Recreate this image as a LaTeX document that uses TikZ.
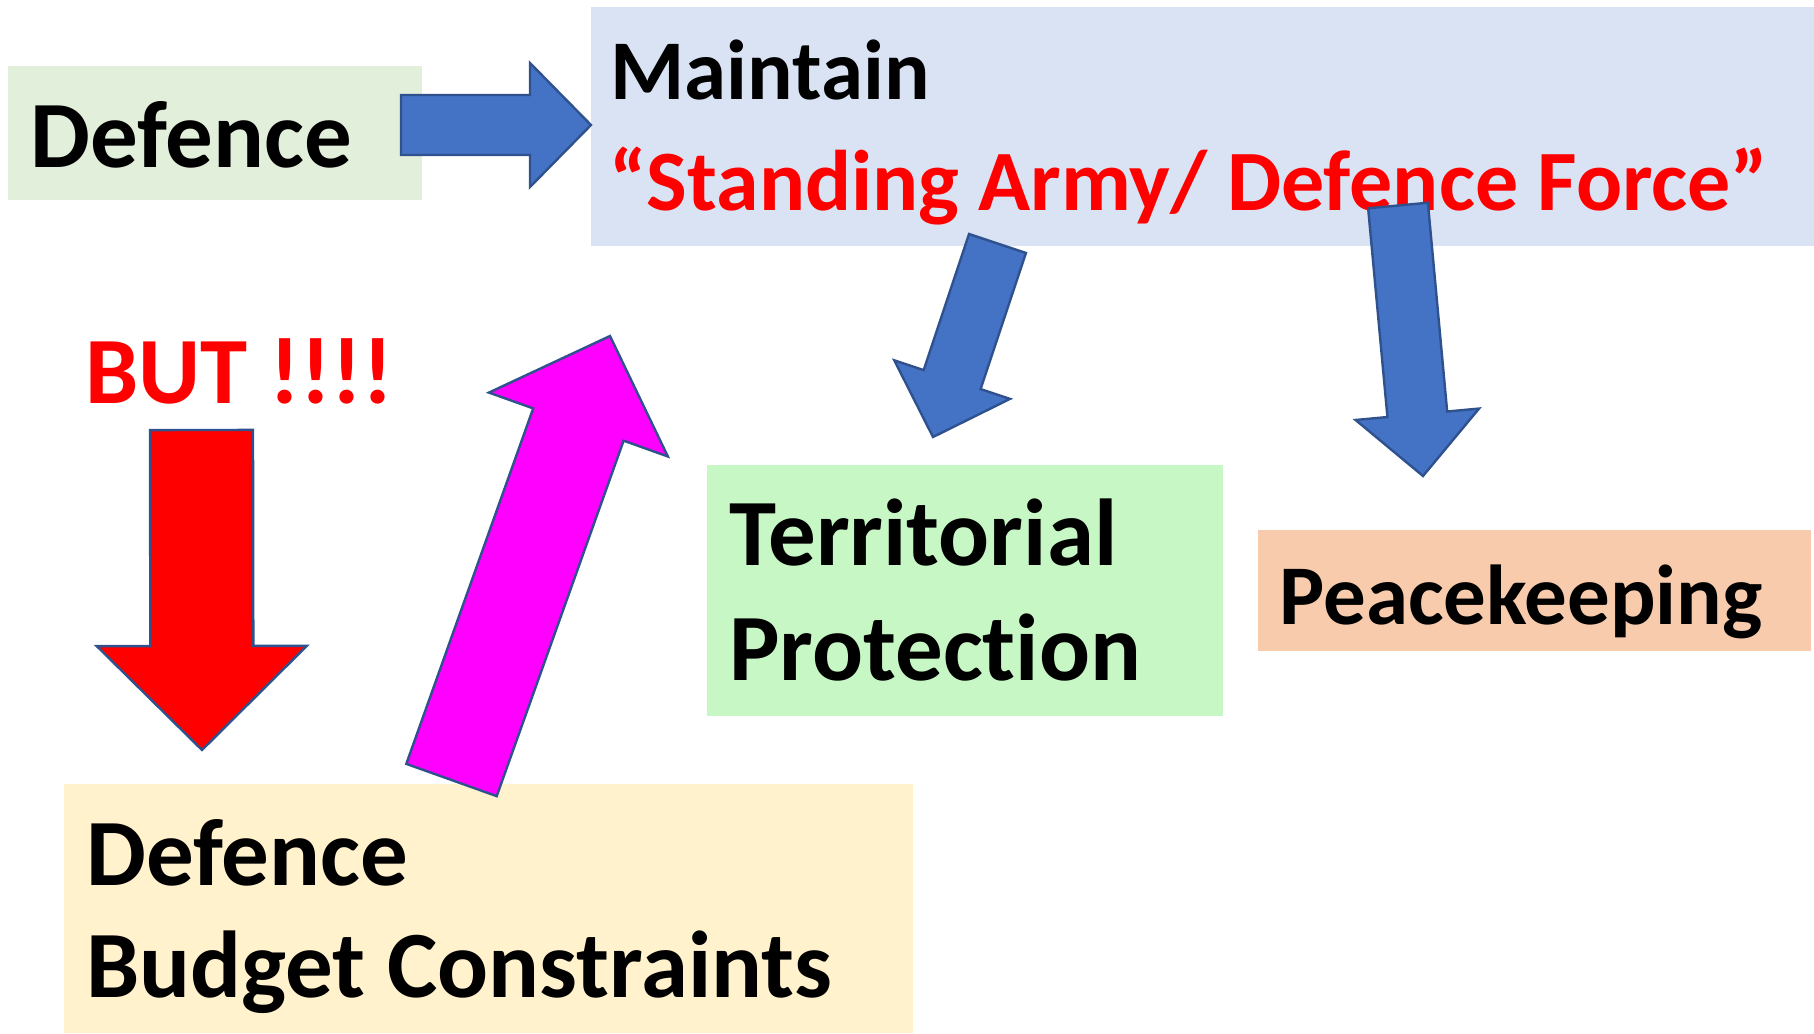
\documentclass[tikz,border=0pt]{standalone}
\usepackage{fontspec}
\setmainfont[Ligatures=NoCommon]{Carlito}
\usetikzlibrary{calc}
\definecolor{defgreen}{HTML}{E2EFDA}
\definecolor{maintblue}{HTML}{DAE3F3}
\definecolor{terrgreen}{HTML}{C6F7C4}
\definecolor{peachbox}{HTML}{F8CBAD}
\definecolor{budgetbox}{HTML}{FFF2CC}
\definecolor{arrblue}{HTML}{4472C4}
\definecolor{arrline}{HTML}{2F528F}
\definecolor{arrpink}{HTML}{FF00FF}
\definecolor{arrred}{HTML}{FF0000}
\newcommand{\blockarrow}[6]{%
  \coordinate (#2h) at ($(#3)!#6!(#2)$);
  \draw[#1] ($(#2)!#4!90:(#3)$) -- ($(#2h)!#4!90:(#3)$) -- ($(#2h)!#5!90:(#3)$)
    -- (#3) -- ($(#2h)!#5!-90:(#3)$) -- ($(#2h)!#4!-90:(#3)$) -- ($(#2)!#4!-90:(#3)$) -- cycle;}

\begin{document}
\begin{tikzpicture}
  [x=0.5pt,y=-0.5pt,
   box/.style={inner sep=0pt,anchor=north west},
   txt/.style={anchor=base west,inner sep=0pt,font=\bfseries\fontsize{47.5}{57}\selectfont},
   small/.style={font=\bfseries\fontsize{42.5}{51}\selectfont},
   arr/.style={draw=arrline,line width=1.2pt,line join=miter}]
  \useasboundingbox (0,0) rectangle (1814,1033);

  \node[box,fill=defgreen,minimum width=207pt,minimum height=67pt] (defbox) at (8,66) {};
  \node[box,fill=maintblue,minimum width=611.5pt,minimum height=119.5pt] (maintbox) at (591,7) {};
  \node[box,fill=terrgreen,minimum width=258pt,minimum height=125.5pt] (terrbox) at (707,465) {};
  \node[box,fill=peachbox,minimum width=276.5pt,minimum height=60.5pt] (peacebox) at (1258,530) {};
  \node[box,fill=budgetbox,minimum width=424.5pt,minimum height=124.5pt] (budgetbox) at (64,784) {};

  \node[txt] (deftxt) at (30,167) {Defence};
  \node[txt,small] (mainttxt) at (610,99) {Maintain};
  \node[txt,small,arrred,font=\bfseries\fontsize{43}{51}\selectfont] (armytxt) at (609,210) {“Standing Army/ Defence Force”};
  \node[txt,arrred] (buttxt) at (85,403) {BUT !!!!};
  \node[txt] (terrtxt) at (729,565) {Territorial};
  \node[txt] (prottxt) at (729,680) {Protection};
  \node[txt,small] (peacetxt) at (1279,624) {Peacekeeping};
  \node[txt] (budtxt) at (86,885) {Defence};
  \node[txt] (constxt) at (86,997) {Budget Constraints};

  \coordinate (a1s) at (401,125);    \coordinate (a1e) at (591,125);
  \coordinate (a2s) at (201.5,430);  \coordinate (a2e) at (202,750);
  \coordinate (a3s) at (451.5,780);  \coordinate (a3e) at (610,336);
  \coordinate (a4s) at (997.5,243.5); \coordinate (a4e) at (933,437);
  \coordinate (a5s) at (1398,205.5); \coordinate (a5e) at (1423,476);

  \foreach \s/\e/\c/\w/\h/\l in {a1s/a1e/arrblue/15pt/31pt/30.5pt,
      a2s/a2e/arrred/25.75pt/52.5pt/52pt, a3s/a3e/arrpink/24pt/47.5pt/47pt,
      a4s/a4e/arrblue/15pt/30.5pt/30.25pt, a5s/a5e/arrblue/15pt/31pt/31pt}
    \blockarrow{arr,fill=\c}{\s}{\e}{\w}{\h}{\l};
\end{tikzpicture}
\end{document}
